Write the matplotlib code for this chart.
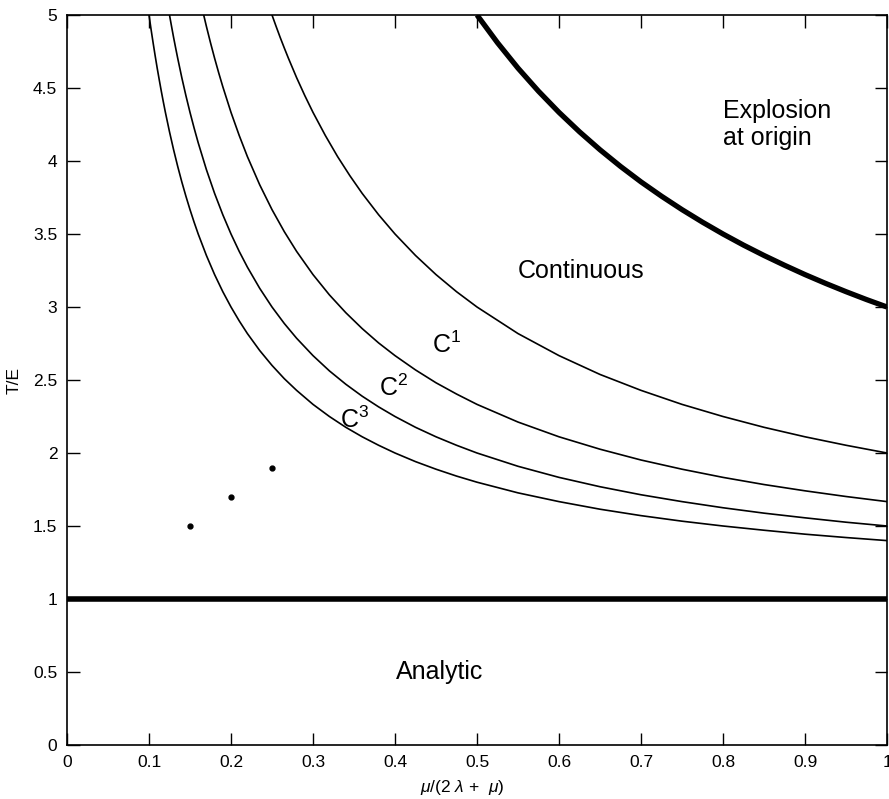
import matplotlib
matplotlib.use("Agg")
import matplotlib.pyplot as plt

plt.rcParams['font.family'] = ['Liberation Sans', 'DejaVu Sans']
plt.rcParams['mathtext.fontset'] = 'custom'
plt.rcParams['mathtext.rm'] = 'Liberation Sans'
plt.rcParams['mathtext.it'] = 'Liberation Sans:italic'

# Curve C3
c3_x = [0.1, 0.1025, 0.105, 0.1075, 0.11, 0.1125, 0.115, 0.1175, 0.12, 0.125, 0.13, 0.135,
        0.14, 0.145, 0.15, 0.155, 0.16, 0.17, 0.18, 0.19, 0.2, 0.21, 0.22, 0.235, 0.25, 0.265,
        0.28, 0.3, 0.32, 0.34, 0.36, 0.38, 0.4, 0.425, 0.45, 0.475, 0.5, 0.55, 0.6, 0.65, 0.7,
        0.75, 0.8, 0.85, 0.9, 0.95, 1.0]
c3_y = [5.0, 4.902, 4.81, 4.721, 4.636, 4.556, 4.478, 4.404, 4.333, 4.2, 4.077, 3.963,
        3.857, 3.759, 3.667, 3.581, 3.5, 3.353, 3.222, 3.105, 3.0, 2.905, 2.818, 2.702, 2.6, 2.509,
        2.429, 2.333, 2.25, 2.176, 2.111, 2.053, 2.0, 1.941, 1.889, 1.842, 1.8, 1.727, 1.667, 1.615, 1.571,
        1.533, 1.5, 1.471, 1.444, 1.421, 1.4]
# Curve C2
c2_x = [0.125, 0.1275, 0.13, 0.1325, 0.135, 0.14, 0.145, 0.15, 0.155, 0.16, 0.17, 0.18,
        0.19, 0.2, 0.21, 0.22, 0.235, 0.25, 0.265, 0.28, 0.3, 0.32, 0.34, 0.36, 0.38, 0.4,
        0.425, 0.45, 0.475, 0.5, 0.55, 0.6, 0.65, 0.7, 0.75, 0.8, 0.85, 0.9, 0.95, 1.0]
c2_y = [5.0, 4.922, 4.846, 4.774, 4.704, 4.571, 4.448, 4.333, 4.226, 4.125, 3.941, 3.778,
        3.632, 3.5, 3.381, 3.273, 3.128, 3.0, 2.887, 2.786, 2.667, 2.5625, 2.471, 2.389, 2.316, 2.25,
        2.176, 2.111, 2.053, 2.0, 1.909, 1.833, 1.769, 1.714, 1.667, 1.625, 1.588, 1.556, 1.526, 1.5]
# Curve C1
c1_x = [0.1667, 0.17, 0.175, 0.18, 0.185, 0.19, 0.2, 0.21, 0.22, 0.235, 0.25, 0.265, 0.28,
        0.3, 0.32, 0.34, 0.36, 0.38, 0.4, 0.425, 0.45, 0.475, 0.5, 0.55, 0.6, 0.65, 0.7, 0.75,
        0.8, 0.85, 0.9, 0.95, 1.0]
c1_y = [5.0, 4.922, 4.81, 4.704, 4.604, 4.509, 4.333, 4.175, 4.030, 3.837, 3.667, 3.516, 3.381,
        3.222, 3.083, 2.961, 2.852, 2.754, 2.667, 2.569, 2.481, 2.404, 2.333, 2.212, 2.111, 2.026, 1.952, 1.889,
        1.833, 1.784, 1.741, 1.702, 1.667]
# Continuity boundary curve
c0_x = [0.25, 0.255, 0.26, 0.265, 0.27, 0.28, 0.29, 0.3, 0.315, 0.33, 0.345, 0.36, 0.38, 0.4,
        0.425, 0.45, 0.475, 0.5, 0.55, 0.6, 0.65, 0.7, 0.75, 0.8, 0.85, 0.9, 0.95, 1.0]
c0_y = [5.0, 4.922, 4.846, 4.774, 4.704, 4.571, 4.448, 4.333, 4.175, 4.030, 3.899, 3.778, 3.632, 3.5,
        3.353, 3.222, 3.105, 3.0, 2.818, 2.667, 2.538, 2.429, 2.333, 2.25, 2.176, 2.111, 2.053, 2.0]
# Explosion boundary (thick)
ex_x = [0.5, 0.525, 0.55, 0.575, 0.6, 0.625, 0.65, 0.675, 0.7, 0.725, 0.75, 0.775, 0.8, 0.825,
        0.85, 0.875, 0.9, 0.925, 0.95, 0.975, 1.0]
ex_y = [5.0, 4.810, 4.636, 4.478, 4.333, 4.2, 4.077, 3.963, 3.857, 3.759, 3.667, 3.581, 3.5, 3.424,
        3.353, 3.286, 3.222, 3.162, 3.105, 3.051, 3.0]
# Analytic boundary
an_x = [0.0, 1.0]
an_y = [1.0, 1.0]
# Points
pt_x = [0.15, 0.2, 0.25]
pt_y = [1.5, 1.7, 1.9]

fig = plt.figure(figsize=(8.89, 7.99), dpi=100)
ax = fig.add_axes([67/889, 54/799, 820/889, 730/799])

for xs, ys in [(c3_x, c3_y), (c2_x, c2_y), (c1_x, c1_y), (c0_x, c0_y)]:
    ax.plot(xs, ys, color='black', lw=1.2)
ax.plot(ex_x, ex_y, color='black', lw=3.8, solid_capstyle='butt')
ax.plot(an_x, an_y, color='black', lw=4.0, solid_capstyle='butt')
ax.plot(pt_x, pt_y, 'o', color='black', ms=3.5)

ax.set_xlim(0, 1)
ax.set_ylim(0, 5)
ax.set_xticks([0, 0.1, 0.2, 0.3, 0.4, 0.5, 0.6, 0.7, 0.8, 0.9, 1])
ax.set_xticklabels(['0', '0.1', '0.2', '0.3', '0.4', '0.5', '0.6', '0.7', '0.8', '0.9', '1'])
ax.set_yticks([0, 0.5, 1, 1.5, 2, 2.5, 3, 3.5, 4, 4.5, 5])
ax.set_yticklabels(['0', '0.5', '1', '1.5', '2', '2.5', '3', '3.5', '4', '4.5', '5'])
ax.tick_params(direction='in', length=9, width=1, top=True, right=True, labelsize=12.5, pad=7)
for s in ax.spines.values():
    s.set_linewidth(1.2)

ax.set_xlabel(r'$\mathit{\mu}$/(2 $\mathit{\lambda}$ +  $\mathit{\mu}$)', fontsize=12.5)
ax.xaxis.set_label_coords(0.482, -0.045)
ax.set_ylabel('T/E', fontsize=12.5, labelpad=8)

ax.text(0.463, 2.74, r'C$^1$', fontsize=18, ha='center', va='center')
ax.text(0.398, 2.445, r'C$^2$', fontsize=18, ha='center', va='center')
ax.text(0.351, 2.23, r'C$^3$', fontsize=18, ha='center', va='center')
ax.text(0.627, 3.25, 'Continuous', fontsize=18, ha='center', va='center')
ax.text(0.8, 4.25, 'Explosion\nat origin', fontsize=18, ha='left', va='center', linespacing=1.2)
ax.text(0.455, 0.5, 'Analytic', fontsize=18, ha='center', va='center')

fig.savefig('out.png', dpi=100)
